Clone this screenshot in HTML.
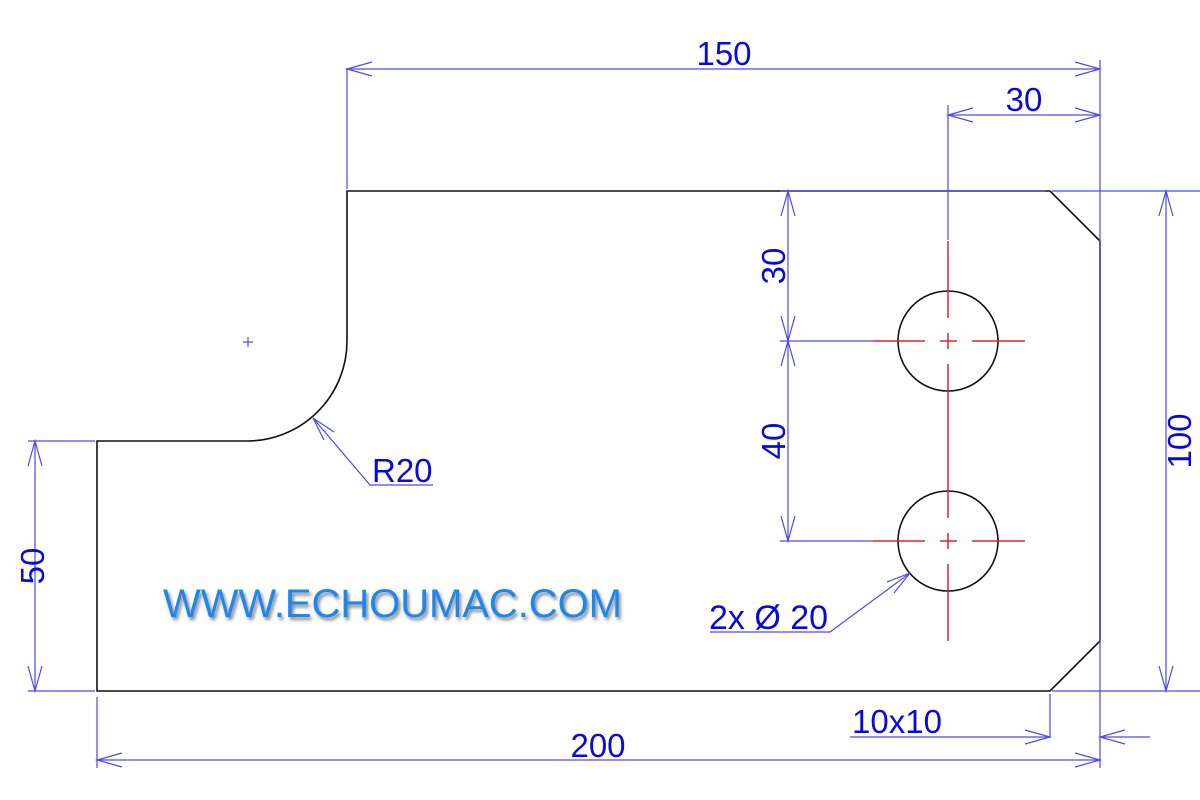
<!DOCTYPE html>
<html><head><meta charset="utf-8"><style>
html,body{margin:0;padding:0;background:#fff;}
svg{display:block;}
text{font-family:"Liberation Sans",sans-serif;fill:#0a0ad8;}
</style></head><body>
<svg width="1200" height="800" viewBox="0 0 1200 800" xmlns="http://www.w3.org/2000/svg">
<defs>
<filter id="sh" x="-5%" y="-20%" width="110%" height="150%"><feDropShadow dx="2" dy="3" stdDeviation="1.5" flood-color="#555" flood-opacity="0.7"/></filter>
</defs>
<path d="M97,691 L97,441 L247,441 A100,100 0 0 0 347,341 L347,191 L1050,191 L1100,241 L1100,641 L1050,691 Z" fill="none" stroke="#111" stroke-width="1.6"/>
<circle cx="948" cy="341" r="50" fill="none" stroke="#111" stroke-width="1.6"/>
<circle cx="948" cy="541" r="50" fill="none" stroke="#111" stroke-width="1.6"/>
<g stroke="#e8202a" stroke-width="1.5">
<line x1="948" y1="241" x2="948" y2="318"/><line x1="948" y1="333" x2="948" y2="349"/><line x1="948" y1="364" x2="948" y2="518"/><line x1="948" y1="533" x2="948" y2="549"/><line x1="948" y1="564" x2="948" y2="641"/>
<line x1="873" y1="341" x2="925" y2="341"/><line x1="940" y1="341" x2="957" y2="341"/><line x1="972" y1="341" x2="1025" y2="341"/>
<line x1="873" y1="541" x2="925" y2="541"/><line x1="940" y1="541" x2="957" y2="541"/><line x1="972" y1="541" x2="1025" y2="541"/>
</g>
<g stroke="#4a4af0" stroke-width="1.2" fill="none">
<line x1="243" y1="342" x2="253" y2="342"/><line x1="248" y1="337" x2="248" y2="347"/>
<line x1="347" y1="68" x2="347" y2="189"/>
<line x1="347" y1="69" x2="1100" y2="69"/>
<path d="M372,62 L347,69 L372,76 M1075,62 L1100,69 L1075,76"/>
<line x1="1100" y1="60" x2="1100" y2="768"/>
<line x1="948" y1="105" x2="948" y2="240"/>
<line x1="948" y1="115" x2="1100" y2="115"/>
<path d="M973,108 L948,115 L973,122 M1075,108 L1100,115 L1075,122"/>
<line x1="1052" y1="191" x2="1205" y2="191"/>
<line x1="1052" y1="691" x2="1205" y2="691"/>
<line x1="1166" y1="191" x2="1166" y2="691"/>
<path d="M1159,216 L1166,191 L1173,216 M1159,666 L1166,691 L1173,666"/>
<line x1="780" y1="191" x2="1045" y2="191"/>
<line x1="780" y1="341" x2="873" y2="341"/>
<line x1="780" y1="541" x2="873" y2="541"/>
<line x1="788" y1="191" x2="788" y2="541"/>
<path d="M781,216 L788,191 L795,216 M781,316 L788,341 L795,316 M781,366 L788,341 L795,366 M781,516 L788,541 L795,516"/>
<line x1="28" y1="441" x2="95" y2="441"/>
<line x1="28" y1="691" x2="95" y2="691"/>
<line x1="35" y1="441" x2="35" y2="691"/>
<path d="M28,466 L35,441 L42,466 M28,666 L35,691 L42,666"/>
<line x1="97" y1="697" x2="97" y2="768"/>
<line x1="97" y1="760" x2="1100" y2="760"/>
<path d="M122,753 L97,760 L122,767 M1075,753 L1100,760 L1075,767"/>
<line x1="1050" y1="694" x2="1050" y2="737"/>
<line x1="850" y1="737" x2="1050" y2="737"/>
<path d="M1025,730 L1050,737 L1025,744"/>
<line x1="1100" y1="737" x2="1150" y2="737"/>
<path d="M1125,730 L1100,737 L1125,744"/>
<path d="M313,418 L370,485 L433,485"/>
<path d="M313,418 L334,432 M313,418 L324,440"/>
<path d="M910,573 L830,632 L710,632"/>
<path d="M910,573 L887,582 M910,573 L894,593"/>
</g>
<text x="724" y="65" font-size="33" text-anchor="middle">150</text>
<text x="1024" y="111" font-size="33" text-anchor="middle">30</text>
<text x="598" y="757" font-size="33" text-anchor="middle">200</text>
<text x="897" y="733" font-size="33" text-anchor="middle">10x10</text>
<text x="372" y="482" font-size="33">R20</text>
<text x="709" y="629" font-size="34">2x Ø 20</text>
<text transform="translate(1191,441) rotate(-90)" font-size="33" text-anchor="middle">100</text>
<text transform="translate(785,266) rotate(-90)" font-size="33" text-anchor="middle">30</text>
<text transform="translate(785,441) rotate(-90)" font-size="33" text-anchor="middle">40</text>
<text transform="translate(44,566) rotate(-90)" font-size="33" text-anchor="middle">50</text>
<text x="163" y="617" font-size="40" textLength="459" style="fill:#1e88ee" filter="url(#sh)">WWW.ECHOUMAC.COM</text>
</svg>
</body></html>
